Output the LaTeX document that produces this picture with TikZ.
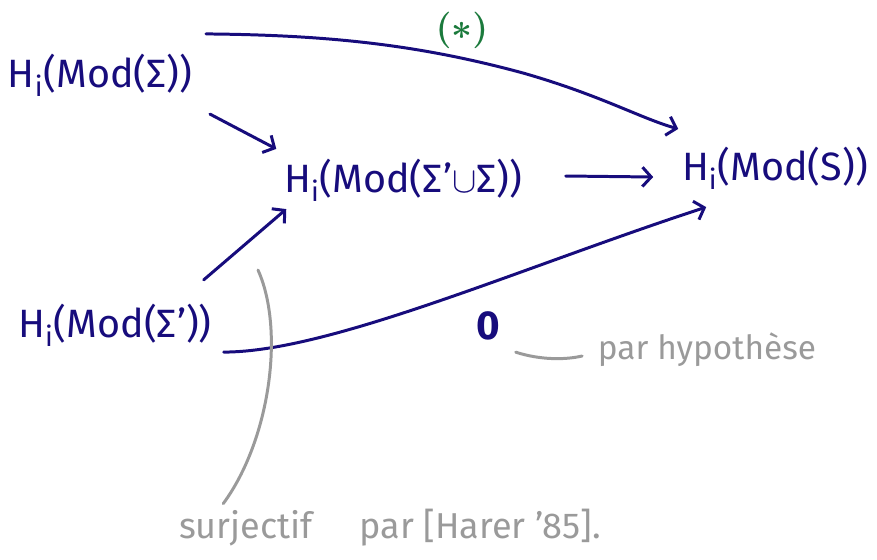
\documentclass[tikz,border=0pt]{standalone}
\usepackage{fontspec}
\setmainfont{Fira Sans}
\usetikzlibrary{arrows.meta,calc}
\definecolor{ink}{HTML}{170C7C}
\definecolor{star}{HTML}{1B7A3C}
\definecolor{note}{HTML}{9A9A9A}

\begin{document}
\begin{tikzpicture}[
    x=0.02cm,y=-0.02cm,
    grp/.style={text=ink,inner sep=2pt,font=\fontsize{22.5}{26}\selectfont},
    remark/.style={text=note,inner sep=2pt,font=\fontsize{19}{23}\selectfont},
    map/.style={draw=ink,line width=1.7pt,line cap=round,
        -{Straight Barb[length=5pt,width=11pt,line width=1.7pt]}},
    lead/.style={draw=note,line width=1.7pt,line cap=round},
  ]
  \useasboundingbox (0,0) rectangle (877,559);

  % ============================================================= GROUPS
  \node[grp] (modS)   at (100,75)  {H\textsubscript{i}(Mod(Σ))};
  \node[grp] (modU)   at (403,180) {H\textsubscript{i}(Mod(Σ'$\cup$Σ))};
  \node[grp] (modT)   at (775,168) {H\textsubscript{i}(Mod(S))};
  \node[grp] (modSp)  at (115,325) {H\textsubscript{i}(Mod(Σ'))};
  \node[grp,font=\fontsize{23}{27}\bfseries] (zero) at (488,326) {0};
  \node[text=star,inner sep=0pt,font=\fontsize{22}{26}\selectfont\boldmath]
    (astr) at (462,30) {$(\ast)$};

  % ============================================================= MAPS
  % (*) : flat start, then bending down onto H_i(Mod(S))
  \coordinate (bend) at (523,73);
  \draw[map] ($(modS.north east)+(10,-16)$)
    .. controls (330,35) and (420,45) .. (bend)
    .. controls (600,95) and (640,118) .. ($(modT.north west)+(0,-14)$);
  \draw[map] ($(modS.south east)+(14,14)$) -- ($(modU.north west)+(-4,-6)$);
  \draw[map] ($(modU.east)+(40,-4)$) -- ($(modT.west)+(-25,9)$);
  \draw[map] ($(modSp.north east)+(-12,-20)$) -- ($(modU.south west)+(6,4)$);
  \draw[map] ($(modSp.south east)+(8,2)$)
    .. controls (330,352) and (520,268) .. ($(modT.south west)+(28,14)$);

  % ============================================================= REMARKS
  \node[remark] (hyp)   at (707,350) {par hypothèse};
  \node[remark,font=\fontsize{20.5}{24}\selectfont] (harer) at (390,528)
    {surjectif\hspace{1.3em}par [Harer '85].};
  \coordinate (surj) at (258,270);

  \draw[lead] ($(zero.south east)+(12,8)$)
    .. controls (540,360) and (565,360) .. ($(hyp.west)+(-12,6)$);
  \draw[lead] (surj) .. controls (285,330) and (270,440)
    .. ($(harer.north west)+(48,-2)$);

\end{tikzpicture}
\end{document}
